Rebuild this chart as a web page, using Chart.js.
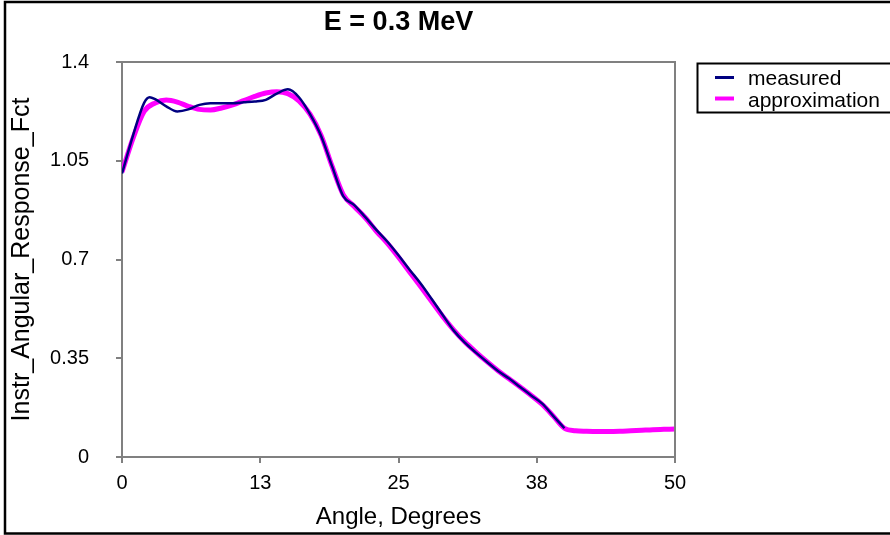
<!DOCTYPE html>
<html>
<head>
<meta charset="utf-8">
<script src="https://cdn.jsdelivr.net/npm/chart.js@4/dist/chart.umd.min.js"></script>
<style>
  html, body { margin: 0; padding: 0; background: #fff; }
  #wrap { width: 890px; height: 535px; }
</style>
</head>
<body>
<div id="wrap"><canvas id="c" width="890" height="535"></canvas></div>
<script>
const chartTitle = "E = 0.3 MeV";
const xAxisTitle = "Angle, Degrees";
const yAxisTitle = "Instr_Angular_Response_Fct";
const seriesNames = ["measured", "approximation"];

const measuredAngles = [0, 1, 2, 2.5, 3, 4, 5, 6, 7, 8, 9, 10, 11, 12, 13, 14, 15, 16, 17, 18, 19, 20,
  21, 22, 23, 24, 25, 26, 27, 28, 29, 30, 31, 32, 33, 34, 35, 36, 37, 38, 39, 40];
const measuredValues = [1.005, 1.14, 1.255, 1.275, 1.268, 1.243, 1.225, 1.232, 1.248, 1.254, 1.254, 1.254, 1.257, 1.260, 1.266, 1.288, 1.303, 1.275, 1.215, 1.138, 1.03, 0.925,
  0.893, 0.85, 0.805, 0.763, 0.715, 0.664, 0.615, 0.56, 0.503, 0.448, 0.405, 0.37, 0.337, 0.305, 0.278, 0.248, 0.218, 0.189, 0.145, 0.102];

const approxAngles = [0, 1, 2, 3, 4, 5, 6, 7, 8, 9, 10, 11, 12, 13, 14, 15, 16, 17, 18, 19, 20,
  21, 22, 23, 24, 25, 26, 27, 28, 29, 30, 31, 32, 33, 34, 35, 36, 37, 38, 39, 40,
  41, 42, 43, 44, 45, 46, 47, 48, 49, 50];
const approxValues = [1.01, 1.13, 1.225, 1.255, 1.265, 1.258, 1.243, 1.232, 1.230, 1.237, 1.248, 1.263, 1.278, 1.29, 1.295, 1.288, 1.262, 1.215, 1.14, 1.03, 0.93,
  0.888, 0.848, 0.800, 0.757, 0.708, 0.656, 0.604, 0.551, 0.498, 0.450, 0.408, 0.372, 0.338, 0.306, 0.277, 0.248, 0.218, 0.186, 0.145, 0.102,
  0.093, 0.091, 0.090, 0.090, 0.091, 0.093, 0.095, 0.097, 0.098, 0.099];

const xTickStep = 12.5;
const yTickStep = 0.35;

const FONT = "'Liberation Sans', Arial, sans-serif";

function toPoints(xs, ys) { return xs.map((x, i) => ({ x: x, y: ys[i] })); }

const decorPlugin = {
  id: 'decor',
  beforeDraw(chart) {
    const ctx = chart.ctx;
    ctx.save();
    ctx.fillStyle = '#ffffff';
    ctx.fillRect(0, 0, chart.width, chart.height);
    ctx.restore();
  },
  afterDraw(chart) {
    const ctx = chart.ctx;
    const a = chart.chartArea;
    ctx.save();
    // plot frame (top & right)
    ctx.strokeStyle = '#808080';
    ctx.lineWidth = 2;
    ctx.beginPath();
    ctx.moveTo(a.left, a.top);
    ctx.lineTo(a.right, a.top);
    ctx.lineTo(a.right, a.bottom);
    ctx.stroke();
    // outer border
    ctx.strokeStyle = '#000000';
    ctx.lineWidth = 2.5;
    ctx.strokeRect(5, 2, 1000, 531.5);
    // title
    ctx.fillStyle = '#000000';
    ctx.font = "bold 27px " + FONT;
    ctx.textAlign = 'center';
    ctx.textBaseline = 'alphabetic';
    ctx.fillText(chartTitle, (a.left + a.right) / 2, 30);
    // legend
    ctx.lineWidth = 2;
    ctx.strokeStyle = '#000000';
    ctx.strokeRect(697.5, 63.5, 300, 49);
    const ds = chart.data.datasets;
    const rows = [{ y: 77.5, base: 84.5 }, { y: 98.5, base: 106.5 }];
    ds.forEach((d, i) => {
      ctx.strokeStyle = d.borderColor;
      ctx.lineWidth = i === 0 ? 3 : 4;
      ctx.beginPath();
      ctx.moveTo(715, rows[i].y);
      ctx.lineTo(734, rows[i].y);
      ctx.stroke();
      ctx.fillStyle = '#000000';
      ctx.font = "21px " + FONT;
      ctx.textAlign = 'left';
      ctx.fillText(d.label, 748, rows[i].base);
    });
    ctx.restore();
  }
};

new Chart(document.getElementById('c'), {
  type: 'line',
  data: {
    datasets: [
      {
        label: seriesNames[0],
        data: toPoints(measuredAngles, measuredValues),
        borderColor: '#000080',
        borderWidth: 2.5,
        pointRadius: 0,
        fill: false,
        cubicInterpolationMode: 'monotone'
      },
      {
        label: seriesNames[1],
        data: toPoints(approxAngles, approxValues),
        borderColor: '#FF00FF',
        borderWidth: 5,
        pointRadius: 0,
        fill: false,
        cubicInterpolationMode: 'monotone'
      }
    ]
  },
  options: {
    responsive: false,
    animation: false,
    layout: { padding: { top: 62, right: 215, bottom: 0, left: 0 } },
    plugins: {
      legend: { display: false },
      title: { display: false },
      tooltip: { enabled: false }
    },
    scales: {
      x: {
        type: 'linear',
        min: 0,
        max: 50,
        afterFit: (s) => { s.height = 78; },
        ticks: {
          stepSize: xTickStep,
          color: '#000000',
          font: { family: FONT, size: 20 },
          padding: 8,
          maxRotation: 0,
          callback: (v) => String(Math.round(v))
        },
        grid: { drawOnChartArea: false, drawTicks: true, tickLength: 6, color: '#808080', lineWidth: 2 },
        border: { display: true, color: '#808080', width: 2 },
        title: { display: true, text: xAxisTitle, color: '#000000', font: { family: FONT, size: 24 }, padding: { top: 0, bottom: 3 } }
      },
      y: {
        type: 'linear',
        min: 0,
        max: 1.4,
        afterFit: (s) => { s.width = 122; },
        ticks: {
          stepSize: yTickStep,
          color: '#000000',
          font: { family: FONT, size: 20 },
          padding: 27,
          callback: (v) => String(Number(v.toFixed(2)))
        },
        grid: { drawOnChartArea: false, drawTicks: true, tickLength: 6, color: '#808080', lineWidth: 2 },
        border: { display: true, color: '#808080', width: 2 },
        title: { display: true, text: yAxisTitle, color: '#000000', font: { family: FONT, size: 25 }, padding: { top: 7, bottom: 0 } }
      }
    }
  },
  plugins: [decorPlugin]
});
</script>
</body>
</html>
